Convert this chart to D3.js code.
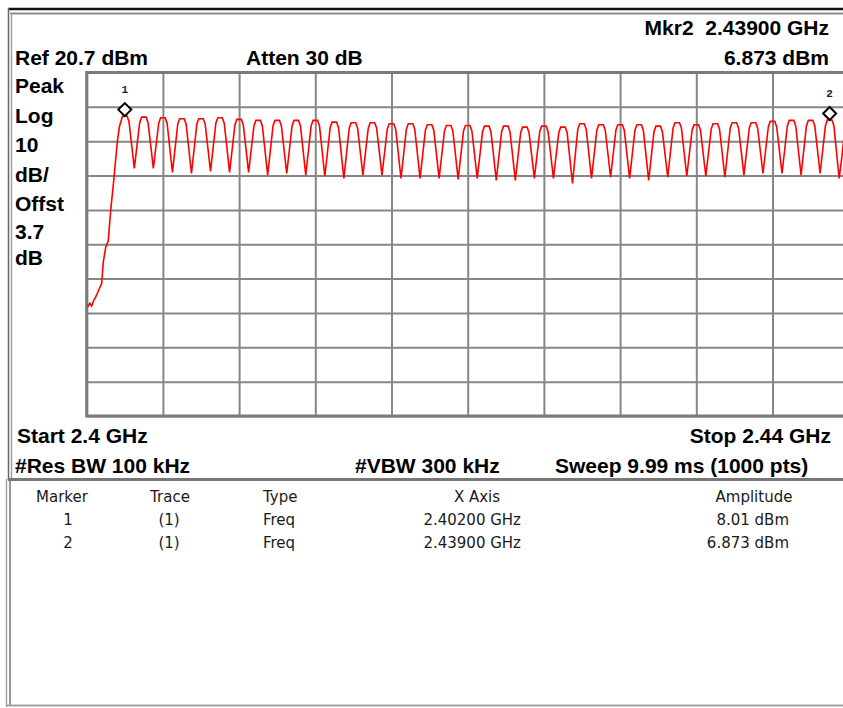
<!DOCTYPE html>
<html>
<head>
<meta charset="utf-8">
<script src="https://cdnjs.cloudflare.com/ajax/libs/d3/7.8.5/d3.min.js"></script>
<style>
body { margin: 0; background: #fff; }
svg { display: block; }
.hdr { font-family: "Liberation Sans", Arial, sans-serif; font-weight: bold; font-size: 21px; fill: #000; white-space: pre; }
.tbl { font-family: "DejaVu Sans", Verdana, sans-serif; font-size: 15px; fill: #1a1a1a; }
.mk { font-family: "Liberation Mono", "DejaVu Sans Mono", monospace; font-weight: bold; font-size: 11px; fill: #1c1c3a; }
</style>
</head>
<body>
<div id="area"></div>
<script>
// sweep settings
var startMHz = 2400, stopMHz = 2440;
var refDbm = 20.7, dbPerDiv = 10;

// rising edge at the start of the sweep
var riseMHz = [2400.00, 2400.08, 2400.16, 2400.26, 2400.37, 2400.47, 2400.63, 2400.79, 2400.87, 2401.00, 2401.13, 2401.26, 2401.42, 2401.55, 2401.63, 2401.72];
var riseDbm = [-47.0, -47.3, -46.5, -47.3, -45.6, -44.7, -42.7, -40.6, -34.5, -30.2, -28.4, -19.4, -10.7, -2.8, 1.5, 5.0];

// channel peaks (1 MHz apart) and the dips between them
var chanMHz = [2402, 2403, 2404, 2405, 2406, 2407, 2408, 2409, 2410, 2411, 2412, 2413, 2414, 2415, 2416, 2417, 2418, 2419, 2420,
               2421, 2422, 2423, 2424, 2425, 2426, 2427, 2428, 2429, 2430, 2431, 2432, 2433, 2434, 2435, 2436, 2437, 2438, 2439];
var peakDbm = [8.01, 7.71, 7.53, 7.24, 7.24, 7.53, 7.04, 6.75,
               6.75, 6.75, 6.75, 6.25, 6.08, 6.08, 5.79, 5.79, 5.50, 5.29,
               5.29, 5.09, 5.09, 4.80, 5.09, 4.80, 5.79, 5.50, 5.50, 5.50,
               5.09, 6.08, 5.50, 5.79, 6.08, 6.08, 6.46, 6.75, 6.75, 6.87];
var troughDbm = [-7.2, -7.2, -8.4, -8.7, -8.1, -8.4, -8.4, -9.2,
                 -8.7, -9.2, -9.5, -10.1, -9.2, -9.2, -10.1, -10.1, -10.1, -10.4,
                 -10.1, -10.7, -10.7, -10.1, -10.1, -11.6, -10.1, -9.8, -10.1, -10.7,
                 -9.8, -9.5, -9.5, -9.8, -9.2, -8.7, -8.7, -9.2, -8.7, -10.1];
var tailMHz = [2439.66, 2439.80];
var tailDbm = [-3.0, 4.5];

// markers
var markerIds = ['1', '2'];
var markerMHz = [2402.0, 2439.0];
var markerDbm = [8.01, 6.873];

// annotation text
var sideLabels = ['Peak', 'Log', '10', 'dB/', 'Offst', '3.7', 'dB'];
var tableHeads = ['Marker', 'Trace', 'Type', 'X Axis', 'Amplitude'];
var rowTrace = ['(1)', '(1)'];
var rowType = ['Freq', 'Freq'];
var rowX = ['2.40200 GHz', '2.43900 GHz'];
var rowAmp = ['8.01 dBm', '6.873 dBm'];

var W = 843, H = 708;
var pLeft = 86.7, pRight = 848.7, pTop = 72.5, pBottom = 416;

var svg = d3.select('#area').append('svg')
    .attr('width', W)
    .attr('height', H);

var x = d3.scaleLinear().domain([startMHz, stopMHz]).range([pLeft, pRight]);
var y = d3.scaleLinear().domain([refDbm - 10 * dbPerDiv, refDbm]).range([pBottom, pTop]);

// window frame
svg.append('line').attr('x1', 8).attr('x2', W).attr('y1', 9).attr('y2', 9)
  .attr('stroke', '#111').attr('stroke-width', 2.5);
svg.append('line').attr('x1', 10).attr('x2', W).attr('y1', 13.5).attr('y2', 13.5)
  .attr('stroke', '#8a8a8a').attr('stroke-width', 2);
svg.append('line').attr('x1', 8.5).attr('x2', 8.5).attr('y1', 8).attr('y2', 480)
  .attr('stroke', '#666').attr('stroke-width', 1.5);
svg.append('line').attr('x1', 11.5).attr('x2', 11.5).attr('y1', 13).attr('y2', 480)
  .attr('stroke', '#a0a0a0').attr('stroke-width', 1.5);
svg.append('line').attr('x1', 8).attr('x2', W).attr('y1', 479.5).attr('y2', 479.5)
  .attr('stroke', '#777').attr('stroke-width', 3);
svg.append('line').attr('x1', 6.5).attr('x2', 6.5).attr('y1', 479).attr('y2', 707)
  .attr('stroke', '#a0a0a0').attr('stroke-width', 1.5);
svg.append('line').attr('x1', 10).attr('x2', 10).attr('y1', 481).attr('y2', 706)
  .attr('stroke', '#777').attr('stroke-width', 1.5);
svg.append('line').attr('x1', 6).attr('x2', W).attr('y1', 705.5).attr('y2', 705.5)
  .attr('stroke', '#a0a0a0').attr('stroke-width', 2);

// grid
var xGrid = d3.range(0, 11).map(function(i) { return startMHz + i * (stopMHz - startMHz) / 10; });
var yGrid = d3.range(0, 11).map(function(i) { return refDbm - i * dbPerDiv; });

var gx = svg.append('g')
  .attr('transform', 'translate(0,' + pBottom + ')')
  .call(d3.axisBottom(x).tickValues(xGrid).tickSize(-(pBottom - pTop)).tickFormat(''));
var gy = svg.append('g')
  .attr('transform', 'translate(' + pLeft + ',0)')
  .call(d3.axisLeft(y).tickValues(yGrid).tickSize(-(pRight - pLeft)).tickFormat(''));
[gx, gy].forEach(function(a) {
  a.select('.domain').remove();
  a.selectAll('.tick line').attr('stroke', '#868686').attr('stroke-width', 2);
});

svg.append('rect')
  .attr('x', pLeft).attr('y', pTop)
  .attr('width', pRight - pLeft).attr('height', pBottom - pTop)
  .attr('fill', 'none').attr('stroke', '#7a7a7a').attr('stroke-width', 3);

// build trace: flat-ish top per channel, V-shaped dip between channels
var trace = [];
riseMHz.forEach(function(f, i) { trace.push([f, riseDbm[i]]); });
chanMHz.forEach(function(f, i) {
  var p = peakDbm[i];
  if (i > 0) trace.push([f - 0.22, p - 1.6]);
  trace.push([f - 0.12, p]);
  trace.push([f + 0.12, p]);
  trace.push([f + 0.22, p - 1.6]);
  trace.push([f + 0.5, troughDbm[i]]);
});
tailMHz.forEach(function(f, i) { trace.push([f, tailDbm[i]]); });

svg.append('clipPath').attr('id', 'plotclip')
  .append('rect').attr('x', pLeft).attr('y', pTop)
  .attr('width', pRight - pLeft).attr('height', pBottom - pTop);

var line = d3.line()
  .x(function(d) { return x(d[0]); })
  .y(function(d) { return y(d[1]); });

svg.append('path')
  .datum(trace)
  .attr('clip-path', 'url(#plotclip)')
  .attr('d', line)
  .attr('fill', 'none')
  .attr('stroke', '#ff0000')
  .attr('stroke-width', 1.6);

// markers
var mk = svg.selectAll('.marker')
  .data(markerIds.map(function(id, i) { return {id: id, f: markerMHz[i], v: markerDbm[i]}; }))
  .enter().append('g')
  .attr('class', 'marker')
  .attr('transform', function(d) { return 'translate(' + x(d.f) + ',' + y(d.v) + ')'; });

mk.append('path')
  .attr('d', 'M0,0 L6.5,-6.5 L0,-13 L-6.5,-6.5 Z')
  .attr('fill', '#fff')
  .attr('stroke', '#000')
  .attr('stroke-width', 2);

mk.append('text')
  .attr('class', 'mk')
  .attr('y', -23)
  .attr('text-anchor', 'middle')
  .text(function(d) { return d.id; });

// header text
svg.append('text').attr('class', 'hdr').attr('x', 829).attr('y', 35)
  .attr('text-anchor', 'end').text('Mkr2  2.43900 GHz');
svg.append('text').attr('class', 'hdr').attr('x', 829).attr('y', 65)
  .attr('text-anchor', 'end').text('6.873 dBm');
svg.append('text').attr('class', 'hdr').attr('x', 15).attr('y', 65).text('Ref 20.7 dBm');
svg.append('text').attr('class', 'hdr').attr('x', 246).attr('y', 65).text('Atten 30 dB');

var sideY = [93, 123, 152, 182, 211, 239, 265];
svg.selectAll('.side')
  .data(sideLabels)
  .enter().append('text')
  .attr('class', 'hdr side')
  .attr('x', 15)
  .attr('y', function(d, i) { return sideY[i]; })
  .text(function(d) { return d; });

// footer text
svg.append('text').attr('class', 'hdr').attr('x', 17).attr('y', 443).text('Start 2.4 GHz');
svg.append('text').attr('class', 'hdr').attr('x', 831).attr('y', 443)
  .attr('text-anchor', 'end').text('Stop 2.44 GHz');
svg.append('text').attr('class', 'hdr').attr('x', 15).attr('y', 473).text('#Res BW 100 kHz');
svg.append('text').attr('class', 'hdr').attr('x', 355).attr('y', 473).text('#VBW 300 kHz');
svg.append('text').attr('class', 'hdr').attr('x', 555).attr('y', 473).text('Sweep 9.99 ms (1000 pts)');

// marker table
var headX = [62, 170, 263, 477, 754];
var headAnchor = ['middle', 'middle', 'start', 'middle', 'middle'];
svg.selectAll('.th')
  .data(tableHeads)
  .enter().append('text')
  .attr('class', 'tbl th')
  .attr('x', function(d, i) { return headX[i]; })
  .attr('y', 502)
  .attr('text-anchor', function(d, i) { return headAnchor[i]; })
  .text(function(d) { return d; });

var rows = svg.selectAll('.row')
  .data(markerIds)
  .enter().append('g')
  .attr('class', 'row')
  .attr('transform', function(d, i) { return 'translate(0,' + (525 + i * 22.5) + ')'; });

rows.append('text').attr('class', 'tbl').attr('x', 68).attr('text-anchor', 'middle')
  .text(function(d) { return d; });
rows.append('text').attr('class', 'tbl').attr('x', 169).attr('text-anchor', 'middle')
  .text(function(d, i) { return rowTrace[i]; });
rows.append('text').attr('class', 'tbl').attr('x', 263)
  .text(function(d, i) { return rowType[i]; });
rows.append('text').attr('class', 'tbl').attr('x', 521).attr('text-anchor', 'end')
  .text(function(d, i) { return rowX[i]; });
rows.append('text').attr('class', 'tbl').attr('x', 789).attr('text-anchor', 'end')
  .text(function(d, i) { return rowAmp[i]; });
</script>
</body>
</html>
